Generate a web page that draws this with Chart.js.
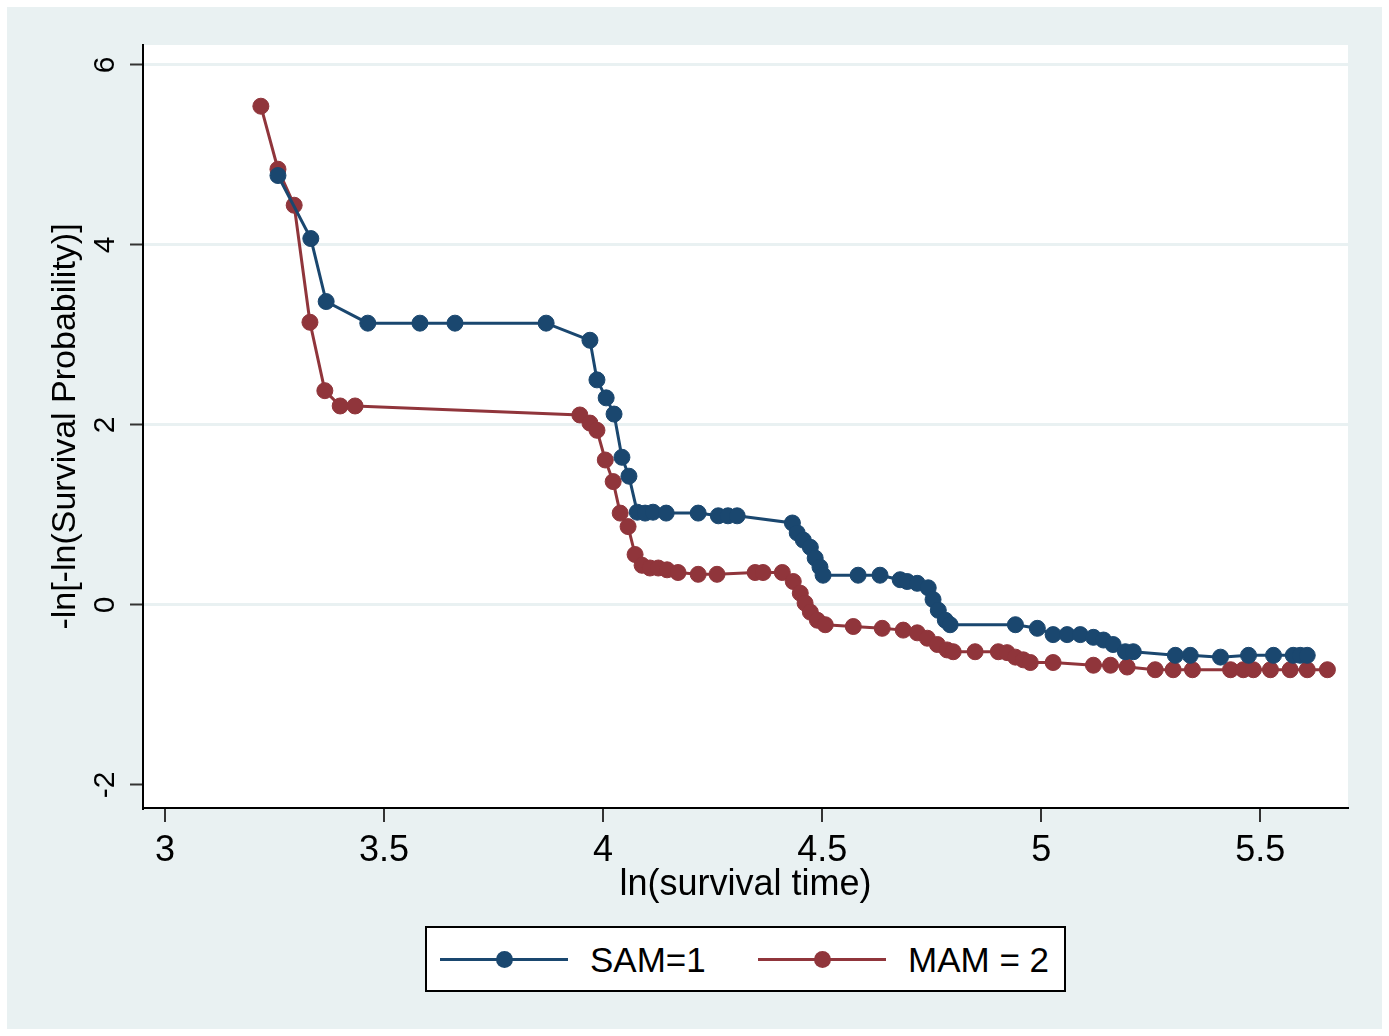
<!DOCTYPE html>
<html>
<head>
<meta charset="utf-8">
<script src="https://cdn.jsdelivr.net/npm/chart.js@4.4.1/dist/chart.umd.min.js"></script>
<style>
    html, body { margin: 0; padding: 0; background: #fff; }
    #wrap { position: relative; width: 1389px; height: 1036px; }
    #legend {
        position: absolute; left: 425px; top: 926px; width: 637px; height: 62px;
        background: #fff; border: 2px solid #000;
        font-family: "Liberation Sans", Arial, sans-serif; font-size: 35px; color: #000;
    }
    .item { position: absolute; top: 0; height: 62px; }
    .sample { position: absolute; top: 30px; width: 128px; height: 3px; }
    .dot { position: absolute; top: -7px; left: 56px; width: 17px; height: 17px; border-radius: 50%; }
    .lbl { position: absolute; left: 150px; top: 12px; white-space: nowrap; }
</style>
</head>
<body>
<div id="wrap">
    <canvas id="chart" width="1389" height="1036"></canvas>
    <div id="legend"></div>
</div>
<script>
const xTicks = [3, 3.5, 4, 4.5, 5, 5.5];
const yTicks = [-2, 0, 2, 4, 6];
const seriesNames = ["SAM=1", "MAM = 2"];

// SAM = 1
const samX = [3.258, 3.333, 3.368, 3.463, 3.582, 3.662, 3.870, 3.970, 3.986, 4.007, 4.025, 4.043, 4.059,
    4.078, 4.096, 4.114, 4.144, 4.217, 4.263, 4.285, 4.306, 4.432, 4.443, 4.457, 4.473, 4.484, 4.495,
    4.502, 4.582, 4.632, 4.678, 4.694, 4.717, 4.742, 4.753, 4.765, 4.781, 4.792, 4.941, 4.991, 5.027,
    5.059, 5.089, 5.119, 5.142, 5.164, 5.192, 5.210, 5.306, 5.340, 5.409, 5.473, 5.530, 5.575, 5.591, 5.607];
const samY = [4.77, 4.07, 3.37, 3.13, 3.13, 3.13, 3.13, 2.94, 2.50, 2.30, 2.12, 1.64, 1.43,
    1.03, 1.02, 1.03, 1.02, 1.02, 0.99, 0.99, 0.99, 0.91, 0.80, 0.72, 0.64, 0.52, 0.42,
    0.33, 0.33, 0.33, 0.28, 0.26, 0.24, 0.19, 0.06, -0.06, -0.17, -0.22, -0.22, -0.26, -0.33,
    -0.33, -0.33, -0.36, -0.39, -0.44, -0.52, -0.52, -0.56, -0.56, -0.58, -0.56, -0.56, -0.56, -0.56, -0.56];

// MAM = 2
const mamX = [3.219, 3.258, 3.295, 3.331, 3.365, 3.400, 3.434, 3.947, 3.970, 3.986, 4.005, 4.023, 4.039,
    4.057, 4.073, 4.089, 4.107, 4.126, 4.146, 4.171, 4.217, 4.260, 4.347, 4.365, 4.409, 4.434, 4.450,
    4.461, 4.473, 4.489, 4.507, 4.571, 4.637, 4.685, 4.717, 4.740, 4.763, 4.785, 4.799, 4.849, 4.902,
    4.922, 4.941, 4.959, 4.975, 5.027, 5.119, 5.158, 5.196, 5.260, 5.301, 5.345, 5.432, 5.461, 5.484,
    5.523, 5.568, 5.607, 5.653];
const mamY = [5.54, 4.84, 4.44, 3.14, 2.38, 2.21, 2.21, 2.11, 2.02, 1.94, 1.61, 1.37, 1.02,
    0.87, 0.56, 0.44, 0.41, 0.41, 0.39, 0.36, 0.34, 0.34, 0.36, 0.36, 0.36, 0.26, 0.13,
    0.02, -0.08, -0.17, -0.22, -0.24, -0.26, -0.28, -0.31, -0.37, -0.44, -0.50, -0.52, -0.52, -0.52,
    -0.53, -0.58, -0.61, -0.64, -0.64, -0.67, -0.67, -0.69, -0.72, -0.72, -0.72, -0.72, -0.72, -0.72,
    -0.72, -0.72, -0.72, -0.72];

const colors = ["#1a476f", "#90353b"];
const bgColor = "#e9f1f2";
const fontName = '"Liberation Sans", Arial, sans-serif';

function toPoints(xs, ys) {
    return xs.map((x, i) => ({ x: x, y: ys[i] }));
}

// background + white plot region
const backdrop = {
    id: "backdrop",
    beforeDraw(chart) {
        const ctx = chart.ctx;
        const a = chart.chartArea;
        ctx.save();
        ctx.fillStyle = "#fff";
        ctx.fillRect(0, 0, chart.width, chart.height);
        ctx.fillStyle = bgColor;
        ctx.fillRect(7, 7, chart.width - 14, chart.height - 14);
        ctx.fillStyle = "#fff";
        ctx.fillRect(a.left, a.top, a.right - a.left, a.bottom - a.top);
        ctx.restore();
    }
};

// rotated y tick labels, like Stata
const yLabels = {
    id: "yLabels",
    afterDraw(chart) {
        const ctx = chart.ctx;
        const s = chart.scales.y;
        ctx.save();
        ctx.fillStyle = "#000";
        ctx.font = "30px " + fontName;
        ctx.textAlign = "center";
        ctx.textBaseline = "middle";
        s.ticks.forEach(t => {
            const py = s.getPixelForValue(t.value);
            ctx.save();
            ctx.translate(106, py);
            ctx.rotate(-Math.PI / 2);
            ctx.fillText(String(t.value), 0, 0);
            ctx.restore();
        });
        ctx.restore();
    }
};

const ctx = document.getElementById("chart");
const chart = new Chart(ctx, {
    type: "line",
    data: {
        datasets: [
            { label: seriesNames[0], data: toPoints(samX, samY) },
            { label: seriesNames[1], data: toPoints(mamX, mamY) }
        ].map((d, i) => Object.assign(d, {
            borderColor: colors[i],
            backgroundColor: colors[i],
            pointBackgroundColor: colors[i],
            pointBorderColor: colors[i],
            borderWidth: 3,
            pointRadius: 8,
            pointBorderWidth: 1,
            tension: 0,
            fill: false
        }))
    },
    options: {
        responsive: false,
        animation: false,
        layout: { padding: { left: 7, top: 45, right: 41, bottom: 118 } },
        plugins: {
            legend: { display: false },
            tooltip: { enabled: false }
        },
        scales: {
            x: {
                type: "linear",
                min: 2.95,
                max: 5.70,
                afterBuildTicks: s => { s.ticks = xTicks.map(v => ({ value: v })); },
                afterFit: s => { s.height = 110; },
                grid: { drawOnChartArea: false, color: "#333", tickColor: "#333", tickLength: 14, lineWidth: 2 },
                border: { color: "#000", width: 2 },
                ticks: {
                    color: "#000",
                    font: { family: fontName, size: 36 },
                    padding: 7,
                    maxRotation: 0,
                    callback: v => String(v)
                },
                title: { display: true, text: "ln(survival time)", color: "#000", font: { family: fontName, size: 36 }, padding: 11 }
            },
            y: {
                type: "linear",
                min: -2.256,
                max: 6.22,
                afterBuildTicks: s => { s.ticks = yTicks.map(v => ({ value: v })); },
                afterFit: s => { s.width = 136; },
                grid: {
                    color: c => (c.tick && c.tick.value === -2) ? "rgba(0,0,0,0)" : bgColor,
                    lineWidth: 3,
                    tickColor: "#333",
                    tickWidth: 2,
                    tickLength: 13
                },
                border: { color: "#000", width: 2 },
                ticks: { color: "rgba(0,0,0,0)", font: { family: fontName, size: 30 } },
                title: { display: true, text: "-ln[-ln(Survival Probability)]", color: "#000", font: { family: fontName, size: 34 }, padding: 38 }
            }
        }
    },
    plugins: [backdrop, yLabels]
});

// legend box below the plot
const legend = document.getElementById("legend");
const itemLeft = [13, 331];
chart.data.datasets.forEach((d, i) => {
    const item = document.createElement("div");
    item.className = "item";
    item.style.left = itemLeft[i] + "px";
    const sample = document.createElement("div");
    sample.className = "sample";
    sample.style.background = d.borderColor;
    const dot = document.createElement("div");
    dot.className = "dot";
    dot.style.background = d.borderColor;
    sample.appendChild(dot);
    const lbl = document.createElement("div");
    lbl.className = "lbl";
    lbl.textContent = d.label;
    item.appendChild(sample);
    item.appendChild(lbl);
    legend.appendChild(item);
});
</script>
</body>
</html>
